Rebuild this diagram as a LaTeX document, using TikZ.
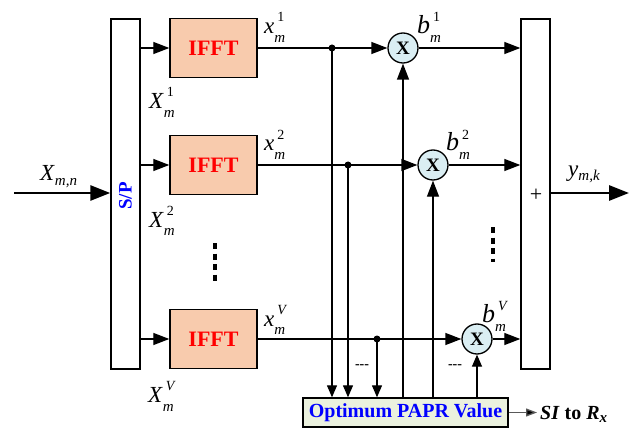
\documentclass[tikz,border=0pt]{standalone}
\usepackage{amsmath}
\usepackage{fontspec}
\setmainfont{Liberation Serif}
\usetikzlibrary{arrows.meta}
\definecolor{peach}{RGB}{248,203,173}
\definecolor{lcyan}{RGB}{218,238,243}
\definecolor{lgreen}{RGB}{235,241,222}
% main letter, superscript (raised), subscript (lowered)
\newcommand\slbl[3]{\textit{#1}\makebox[0pt][l]{\hspace{3pt}\raisebox{12pt}{\fontsize{14}{14}\selectfont #3}}\raisebox{-9pt}{\fontsize{15}{15}\selectfont\itshape #2}}
\newcommand\sublbl[2]{\textit{#1}\raisebox{-5pt}{\fontsize{15}{15}\selectfont\itshape #2}}
\begin{document}
\begin{tikzpicture}[x=1pt,y=-1pt,
  box/.style={draw,line width=1.4pt,inner sep=0pt},
  tall/.style={box,fill=white,minimum width=29pt,minimum height=350pt},
  ifftbox/.style={box,fill=peach,minimum width=87pt,minimum height=59pt,
    text=red,font=\bfseries\fontsize{22}{24}\selectfont},
  mult/.style={draw,circle,line width=1.3pt,fill=lcyan,minimum size=30pt,inner sep=0pt,
    font=\bfseries\fontsize{19}{20}\selectfont},
  wire/.style={line width=1.3pt},
  arrL/.style={wire,-{Triangle[length=16pt,width=12pt]}},
  arrS/.style={wire,-{Triangle[length=12pt,width=10pt]}},
  arrT/.style={line width=2.8pt,-{Triangle[length=20pt,width=15pt]}},
  dot/.style={circle,fill=black,inner sep=0pt,minimum size=7pt},
  vdots/.style={line width=3.5pt,dash pattern=on 6pt off 4.5pt},
  lab/.style={inner sep=0pt,anchor=base west,font=\fontsize{23}{25}\selectfont},
  blab/.style={lab,font=\fontsize{26}{28}\selectfont},
  hd/.style={inner sep=0pt,font=\bfseries\fontsize{14}{16}\selectfont}
]
\useasboundingbox (0,0) rectangle (633,428);

% main blocks
\node[tall] (sp) at (125.5,194) {};
\node[rotate=90,inner sep=0pt,text=blue,font=\bfseries\fontsize{19}{20}\selectfont] (spt) at (125.5,196) {S/P};
\node[tall] (sum) at (535.5,194) {};
\node[inner sep=0pt,font=\fontsize{22}{24}\selectfont] (plus) at (536,195) {+};

\node[ifftbox] (f1) at (213.5,48) {IFFT};
\node[ifftbox] (f2) at (213.5,165) {IFFT};
\node[ifftbox] (f3) at (213.5,339) {IFFT};

\node[mult] (m1) at (403,48) {X};
\node[mult] (m2) at (433,165) {X};
\node[mult] (m3) at (477,339) {X};

\node[box,fill=lgreen,minimum width=205pt,minimum height=29pt,text=blue,
  font=\bfseries\fontsize{20}{22}\selectfont] (papr) at (405.5,412.5) {Optimum PAPR Value};

% branch points
\coordinate (d1) at (332,48);
\coordinate (d2) at (348,165);
\coordinate (d3) at (377,339);
\node[dot] at (d1) {};
\node[dot] at (d2) {};
\node[dot] at (d3) {};

% input / output
\coordinate (in) at (14,193);
\coordinate (out) at (629,193);
\draw[arrT] (in) -- (in -| sp.west);
\draw[arrT] (sum.east |- out) -- (out);

% S/P -> IFFT
\draw[arrL] (f1.west -| sp.east) -- (f1.west);
\draw[arrL] (f2.west -| sp.east) -- (f2.west);
\draw[arrL] (f3.west -| sp.east) -- (f3.west);

% IFFT -> multipliers
\draw[arrL] (f1.east) -- (m1.west);
\draw[arrL] (f2.east) -- (m2.west);
\draw[arrL] (f3.east) -- (m3.west);

% multipliers -> sum
\draw[arrL] (m1.east) -- (m1.east -| sum.west);
\draw[arrL] (m2.east) -- (m2.east -| sum.west);
\draw[arrL] (m3.east) -- (m3.east -| sum.west);

% taps down to PAPR block
\draw[arrS] (d1) -- (d1 |- papr.north);
\draw[arrS] (d2) -- (d2 |- papr.north);
\draw[arrS] (d3) -- (d3 |- papr.north);

% PAPR block up to multipliers
\draw[arrL] (papr.north -| m1.south) -- (m1.south);
\draw[arrL] (papr.north -| m2.south) -- (m2.south);
\draw[arrS] (papr.north -| m3.south) -- (m3.south);

% side information
\coordinate (si) at (537,412.5);
\draw[line width=1.3pt,black!65,-{Triangle[length=11pt,width=8pt,fill=black]}] (papr.east) -- (si);
\node[anchor=base west,inner sep=0pt,font=\fontsize{20}{22}\selectfont] (sit) at (540,419)
  {\textbf{\textit{SI}} \textbf{to} \textbf{\textit{R}}\raisebox{-3pt}{\fontsize{15}{15}\selectfont\bfseries\itshape x}};

% ellipses
\coordinate (e1a) at (215,243);
\coordinate (e1b) at (215,281);
\draw[vdots] (e1a) -- (e1b);
\coordinate (e2a) at (493,227);
\coordinate (e2b) at (493,262);
\draw[vdots] (e2a) -- (e2b);
\node[hd] (dash1) at (362,367) {-{}-{}-};
\node[hd] (dash2) at (455,367) {-{}-{}-};

% labels
\node[lab] (lxmn) at (40,181) {\sublbl{X}{m,n}};
\node[lab] (lymk) at (568,176) {\sublbl{y}{m,k}};
\node[lab] (lX1) at (149,109) {\slbl{X}{m}{1}};
\node[lab] (lX2) at (149,227) {\slbl{X}{m}{2}};
\node[lab] (lXV) at (148,402) {\slbl{X}{m}{\itshape V}};
\node[lab] (lx1) at (264,34) {\slbl{x}{m}{1}};
\node[lab] (lx2) at (264,151) {\slbl{x}{m}{2}};
\node[lab] (lxV) at (264,326) {\slbl{x}{m}{\itshape V}};
\node[blab] (lb1) at (417,34) {\slbl{b}{m}{1}};
\node[blab] (lb2) at (446,151) {\slbl{b}{m}{2}};
\node[blab] (lbV) at (482,322) {\slbl{b}{m}{\itshape V}};
\end{tikzpicture}
\end{document}
